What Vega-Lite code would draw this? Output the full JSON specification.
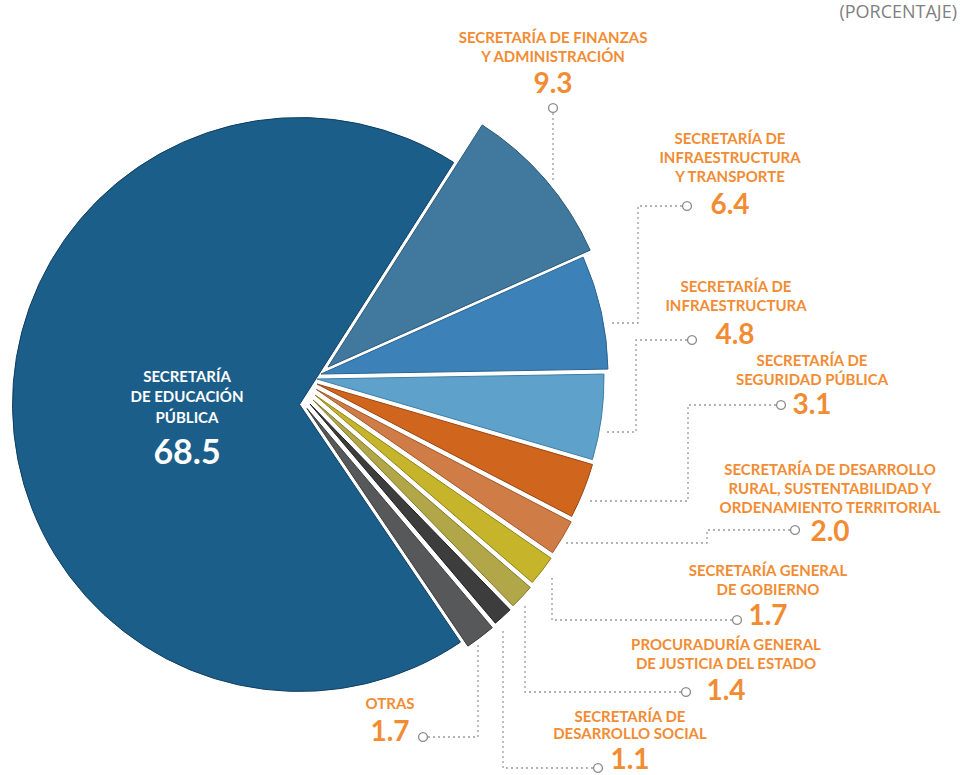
{
  "$schema": "https://vega.github.io/schema/vega-lite/v6.json",
  "width": 960,
  "height": 775,
  "autosize": {"type": "none"},
  "padding": 0,
  "background": "white",
  "config": {"view": {"stroke": null}},
  "layer": [
    {
      "data": {"values": [
        {"key": "fin", "name": "Secretaría de Finanzas y Administración", "value": 9.3, "order": 1},
        {"key": "inft", "name": "Secretaría de Infraestructura y Transporte", "value": 6.4, "order": 2},
        {"key": "inf", "name": "Secretaría de Infraestructura", "value": 4.8, "order": 3},
        {"key": "seg", "name": "Secretaría de Seguridad Pública", "value": 3.1, "order": 4},
        {"key": "rur", "name": "Secretaría de Desarrollo Rural, Sustentabilidad y Ordenamiento Territorial", "value": 2.0, "order": 5},
        {"key": "gob", "name": "Secretaría General de Gobierno", "value": 1.7, "order": 6},
        {"key": "pro", "name": "Procuraduría General de Justicia del Estado", "value": 1.4, "order": 7},
        {"key": "soc", "name": "Secretaría de Desarrollo Social", "value": 1.1, "order": 8},
        {"key": "otr", "name": "Otras", "value": 1.7, "order": 9},
        {"key": "edu", "name": "Secretaría de Educación Pública", "value": 68.5, "order": 10}
      ]},
      "transform": [
        {"stack": "value", "groupby": [], "sort": [{"field": "order", "order": "ascending"}], "as": ["v0", "v1"]}
      ],
      "encoding": {
        "theta": {"field": "v0", "type": "quantitative", "stack": null, "scale": {"domain": [0, 100], "range": [0.5672, 6.8504]}},
        "theta2": {"field": "v1"},
        "fill": {"field": "key", "type": "nominal", "legend": null, "scale": {
          "domain": ["fin", "inft", "inf", "seg", "rur", "gob", "pro", "soc", "otr", "edu"],
          "range": ["#41799e", "#3c82b8", "#5ea2cb", "#d0661d", "#cf7c47", "#c6b52b", "#b1a748", "#3d3d3d", "#56585a", "#1c5e8a"]}},
        "stroke": {"field": "key", "type": "nominal", "legend": null, "scale": {
          "domain": ["fin", "inft", "inf", "seg", "rur", "gob", "pro", "soc", "otr", "edu"],
          "range": ["#2b5878", "#2a6390", "#3e7ea6", "#9b4510", "#a3582a", "#8f8219", "#7f782c", "#1f1f1f", "#3a3b3c", "#0f3e60"]}}
      },
      "layer": [
        {"transform": [{"filter": "datum.key === 'edu'"}], "mark": {"type": "arc", "radius": 287, "strokeWidth": 1},
         "encoding": {"x": {"datum": 299.5, "type": "quantitative", "scale": {"domain": [0, 960], "nice": false, "zero": false}, "axis": null},
                      "y": {"datum": 404.5, "type": "quantitative", "scale": {"domain": [0, 775], "reverse": true, "nice": false, "zero": false}, "axis": null}}},
        {"transform": [{"filter": "datum.key === 'fin'"}], "mark": {"type": "arc", "radius": 287, "strokeWidth": 1},
         "encoding": {"x": {"datum": 328, "type": "quantitative"}, "y": {"datum": 367, "type": "quantitative"}}},
        {"transform": [{"filter": "datum.key === 'inft'"}], "mark": {"type": "arc", "radius": 287, "strokeWidth": 1},
         "encoding": {"x": {"datum": 321, "type": "quantitative"}, "y": {"datum": 374, "type": "quantitative"}}},
        {"transform": [{"filter": "datum.key === 'inf'"}], "mark": {"type": "arc", "radius": 287, "strokeWidth": 1},
         "encoding": {"x": {"datum": 317, "type": "quantitative"}, "y": {"datum": 379, "type": "quantitative"}}},
        {"transform": [{"filter": "datum.key === 'seg'"}], "mark": {"type": "arc", "radius": 287, "strokeWidth": 1},
         "encoding": {"x": {"datum": 317, "type": "quantitative"}, "y": {"datum": 384, "type": "quantitative"}}},
        {"transform": [{"filter": "datum.key === 'rur'"}], "mark": {"type": "arc", "radius": 287, "strokeWidth": 1},
         "encoding": {"x": {"datum": 316.5, "type": "quantitative"}, "y": {"datum": 389.5, "type": "quantitative"}}},
        {"transform": [{"filter": "datum.key === 'gob'"}], "mark": {"type": "arc", "radius": 287, "strokeWidth": 1},
         "encoding": {"x": {"datum": 315, "type": "quantitative"}, "y": {"datum": 395, "type": "quantitative"}}},
        {"transform": [{"filter": "datum.key === 'pro'"}], "mark": {"type": "arc", "radius": 287, "strokeWidth": 1},
         "encoding": {"x": {"datum": 313, "type": "quantitative"}, "y": {"datum": 400, "type": "quantitative"}}},
        {"transform": [{"filter": "datum.key === 'soc'"}], "mark": {"type": "arc", "radius": 287, "strokeWidth": 1},
         "encoding": {"x": {"datum": 310, "type": "quantitative"}, "y": {"datum": 404, "type": "quantitative"}}},
        {"transform": [{"filter": "datum.key === 'otr'"}], "mark": {"type": "arc", "radius": 287, "strokeWidth": 1},
         "encoding": {"x": {"datum": 307, "type": "quantitative"}, "y": {"datum": 408.5, "type": "quantitative"}}}
      ]
    },
    {
      "data": {"values": [
        {"id": "fin", "seq": 1, "lx": 553, "ly": 113}, {"id": "fin", "seq": 2, "lx": 553, "ly": 180},
        {"id": "inft", "seq": 1, "lx": 682, "ly": 206}, {"id": "inft", "seq": 2, "lx": 638, "ly": 206}, {"id": "inft", "seq": 3, "lx": 638, "ly": 323}, {"id": "inft", "seq": 4, "lx": 610, "ly": 323},
        {"id": "inf", "seq": 1, "lx": 687, "ly": 340}, {"id": "inf", "seq": 2, "lx": 636, "ly": 340}, {"id": "inf", "seq": 3, "lx": 636, "ly": 432}, {"id": "inf", "seq": 4, "lx": 606, "ly": 432},
        {"id": "seg", "seq": 1, "lx": 776, "ly": 405}, {"id": "seg", "seq": 2, "lx": 688, "ly": 405}, {"id": "seg", "seq": 3, "lx": 688, "ly": 501}, {"id": "seg", "seq": 4, "lx": 589, "ly": 501},
        {"id": "rur", "seq": 1, "lx": 790, "ly": 530}, {"id": "rur", "seq": 2, "lx": 707, "ly": 530}, {"id": "rur", "seq": 3, "lx": 707, "ly": 543}, {"id": "rur", "seq": 4, "lx": 566, "ly": 543},
        {"id": "gob", "seq": 1, "lx": 732, "ly": 620}, {"id": "gob", "seq": 2, "lx": 552, "ly": 620}, {"id": "gob", "seq": 3, "lx": 552, "ly": 576},
        {"id": "pro", "seq": 1, "lx": 681, "ly": 692}, {"id": "pro", "seq": 2, "lx": 525, "ly": 692}, {"id": "pro", "seq": 3, "lx": 525, "ly": 605},
        {"id": "soc", "seq": 1, "lx": 593, "ly": 768}, {"id": "soc", "seq": 2, "lx": 503, "ly": 768}, {"id": "soc", "seq": 3, "lx": 503, "ly": 628},
        {"id": "otr", "seq": 1, "lx": 428, "ly": 737}, {"id": "otr", "seq": 2, "lx": 478, "ly": 737}, {"id": "otr", "seq": 3, "lx": 478, "ly": 645}
      ]},
      "mark": {"type": "line", "color": "#9a9a9a", "strokeWidth": 1.3, "strokeDash": [2, 3]},
      "encoding": {
        "x": {"field": "lx", "type": "quantitative"},
        "y": {"field": "ly", "type": "quantitative"},
        "detail": {"field": "id"},
        "order": {"field": "seq"}
      }
    },
    {
      "data": {"values": [
        {"id": "fin", "lx": 553, "ly": 108}, {"id": "inft", "lx": 687, "ly": 206}, {"id": "inf", "lx": 692, "ly": 340},
        {"id": "seg", "lx": 781, "ly": 405}, {"id": "rur", "lx": 795, "ly": 530}, {"id": "gob", "lx": 737, "ly": 620},
        {"id": "pro", "lx": 686, "ly": 692}, {"id": "soc", "lx": 598, "ly": 768}, {"id": "otr", "lx": 423, "ly": 737}
      ]},
      "mark": {"type": "point", "shape": "circle", "filled": true, "fill": "white", "stroke": "#8c8c8c", "strokeWidth": 1.3, "size": 80, "opacity": 1},
      "encoding": {
        "x": {"field": "lx", "type": "quantitative"},
        "y": {"field": "ly", "type": "quantitative"}
      }
    },
    {
      "data": {"values": [
        {"lx": 553, "ly": 38, "t": "SECRETARÍA DE FINANZAS"}, {"lx": 553, "ly": 57, "t": "Y ADMINISTRACIÓN"},
        {"lx": 730, "ly": 139, "t": "SECRETARÍA DE"}, {"lx": 730, "ly": 158, "t": "INFRAESTRUCTURA"}, {"lx": 730, "ly": 177, "t": "Y TRANSPORTE"},
        {"lx": 736, "ly": 287, "t": "SECRETARÍA DE"}, {"lx": 736, "ly": 306, "t": "INFRAESTRUCTURA"},
        {"lx": 812, "ly": 361, "t": "SECRETARÍA DE"}, {"lx": 812, "ly": 380, "t": "SEGURIDAD PÚBLICA"},
        {"lx": 830, "ly": 470, "t": "SECRETARÍA DE DESARROLLO"}, {"lx": 830, "ly": 489, "t": "RURAL, SUSTENTABILIDAD Y"}, {"lx": 830, "ly": 508, "t": "ORDENAMIENTO TERRITORIAL"},
        {"lx": 768, "ly": 571, "t": "SECRETARÍA GENERAL"}, {"lx": 768, "ly": 590, "t": "DE GOBIERNO"},
        {"lx": 726, "ly": 645, "t": "PROCURADURÍA GENERAL"}, {"lx": 726, "ly": 664, "t": "DE JUSTICIA DEL ESTADO"},
        {"lx": 630, "ly": 717, "t": "SECRETARÍA DE"}, {"lx": 630, "ly": 734, "t": "DESARROLLO SOCIAL"},
        {"lx": 390, "ly": 704, "t": "OTRAS"}
      ]},
      "mark": {"type": "text", "font": "Lato", "fontWeight": "bold", "fontSize": 15, "color": "#f28c33", "align": "center", "baseline": "middle"},
      "encoding": {
        "x": {"field": "lx", "type": "quantitative"},
        "y": {"field": "ly", "type": "quantitative"},
        "text": {"field": "t"}
      }
    },
    {
      "data": {"values": [
        {"lx": 553, "ly": 85, "v": 9.3}, {"lx": 730, "ly": 206, "v": 6.4}, {"lx": 735, "ly": 336, "v": 4.8},
        {"lx": 812, "ly": 406, "v": 3.1}, {"lx": 830, "ly": 533, "v": 2.0}, {"lx": 768, "ly": 617, "v": 1.7},
        {"lx": 726, "ly": 692, "v": 1.4}, {"lx": 630, "ly": 761, "v": 1.1}, {"lx": 390, "ly": 733, "v": 1.7}
      ]},
      "mark": {"type": "text", "font": "Lato", "fontWeight": "bold", "fontSize": 28, "color": "#f28c33", "align": "center", "baseline": "middle"},
      "encoding": {
        "x": {"field": "lx", "type": "quantitative"},
        "y": {"field": "ly", "type": "quantitative"},
        "text": {"field": "v", "type": "quantitative", "format": ".1f"}
      }
    },
    {
      "data": {"values": [
        {"lx": 187, "ly": 377, "t": "SECRETARÍA"}, {"lx": 187, "ly": 397, "t": "DE EDUCACIÓN"}, {"lx": 187, "ly": 418, "t": "PÚBLICA"}
      ]},
      "mark": {"type": "text", "font": "Lato", "fontWeight": "bold", "fontSize": 15, "color": "white", "align": "center", "baseline": "middle"},
      "encoding": {
        "x": {"field": "lx", "type": "quantitative"},
        "y": {"field": "ly", "type": "quantitative"},
        "text": {"field": "t"}
      }
    },
    {
      "data": {"values": [{"lx": 187, "ly": 454, "v": 68.5}]},
      "mark": {"type": "text", "font": "Lato", "fontWeight": "bold", "fontSize": 34, "color": "white", "align": "center", "baseline": "middle"},
      "encoding": {
        "x": {"field": "lx", "type": "quantitative"},
        "y": {"field": "ly", "type": "quantitative"},
        "text": {"field": "v", "type": "quantitative", "format": ".1f"}
      }
    },
    {
      "data": {"values": [{"lx": 957, "ly": 13, "t": "(PORCENTAJE)"}]},
      "mark": {"type": "text", "font": "Open Sans", "fontWeight": "normal", "fontSize": 18, "color": "#7f7f7f", "align": "right", "baseline": "middle"},
      "encoding": {
        "x": {"field": "lx", "type": "quantitative"},
        "y": {"field": "ly", "type": "quantitative"},
        "text": {"field": "t"}
      }
    }
  ]
}
